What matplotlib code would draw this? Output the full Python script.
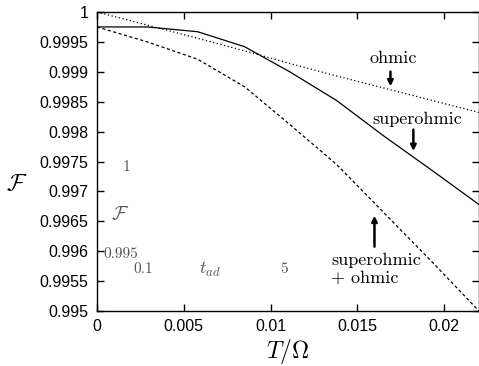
import numpy as np
import matplotlib
matplotlib.use("Agg")
import matplotlib.pyplot as plt
from matplotlib.ticker import FuncFormatter

plt.rcParams['mathtext.fontset'] = 'cm'
plt.rcParams['font.family'] = ['Liberation Sans', 'DejaVu Sans']

# T/Omega values and fidelities
T = [0, 0.0029, 0.0058, 0.0085, 0.0111, 0.0138, 0.0165, 0.0193, 0.022]
F_superohmic = [0.99975, 0.99975, 0.99967, 0.99942, 0.99900, 0.99852, 0.99793, 0.99735, 0.99678]
F_ohmic = [1.0, 0.99978, 0.99956, 0.99935, 0.99914, 0.99893, 0.99873, 0.99852, 0.99832]
F_both = [0.99975, 0.9995, 0.99921, 0.99875, 0.99812, 0.99745, 0.99665, 0.99582, 0.995]

xticks = [0, 0.005, 0.01, 0.015, 0.02]
yticks = [0.995, 0.9955, 0.996, 0.9965, 0.997, 0.9975, 0.998, 0.9985, 0.999, 0.9995, 1.0]

fig = plt.figure(figsize=(4.79, 3.66), dpi=100)
ax = fig.add_axes([97/479, 1-311/366, 382/479, 299/366])

ax.plot(T, F_superohmic, color='black', lw=0.9)
ax.plot(T, F_ohmic, color='black', lw=0.9, linestyle=(0, (1, 2)))
ax.plot(T, F_both, color='black', lw=0.9, linestyle=(0, (2.5, 2)))

ax.set_xlim(0, 0.022)
ax.set_ylim(0.995, 1.0)
ax.set_xticks(xticks)
ax.set_yticks(yticks)
fmt = FuncFormatter(lambda v, p: '%g' % round(v, 5))
ax.xaxis.set_major_formatter(fmt)
ax.yaxis.set_major_formatter(fmt)
ax.tick_params(direction='in', top=True, right=True, length=5, width=1,
               labelsize=11.5, pad=6)
for s in ax.spines.values():
    s.set_linewidth(1)

ax.set_xlabel(r'$T/\Omega$', fontsize=17, labelpad=2)
fig.text(17/479, 1-184/366, r'$\mathcal{F}$', fontsize=17, ha='center', va='center')

# annotations
serif = dict(family='cmr10', fontsize=13, color='black')
arrow = dict(arrowstyle='-|>', color='black', lw=1.8, mutation_scale=8)
ax.text(0.01707, 0.99922, 'ohmic', ha='center', va='center', **serif)
ax.annotate('', xy=(0.0169, 0.99871), xytext=(0.0169, 0.99905), arrowprops=arrow)
ax.text(0.01845, 0.9982, 'superohmic', ha='center', va='center', **serif)
ax.annotate('', xy=(0.01822, 0.99763), xytext=(0.01822, 0.99808), arrowprops=arrow)
ax.annotate('', xy=(0.01598, 0.99664), xytext=(0.01598, 0.99603), arrowprops=arrow)
ax.text(0.0135, 0.99585, 'superohmic', ha='left', va='center', **serif)
ax.text(0.0135, 0.99556, '+ ohmic', ha='left', va='center', **serif)

# leftover inset labels (gray)
gray = '#555555'
ax.text(0.00172, 0.9974, '1', ha='center', va='center', family='cmr10', fontsize=11, color=gray)
ax.text(0.00132, 0.9966, r'$\mathcal{F}$', ha='center', va='center', fontsize=14, color=gray)
ax.text(0.00135, 0.99595, '0.995', ha='center', va='center', family='cmr10', fontsize=11, color=gray)
ax.text(0.00264, 0.9957, '0.1', ha='center', va='center', family='cmr10', fontsize=11, color=gray)
ax.text(0.0065, 0.9957, r'$t_{ad}$', ha='center', va='center', fontsize=13, color=gray)
ax.text(0.01075, 0.9957, '5', ha='center', va='center', family='cmr10', fontsize=11, color=gray)

fig.savefig('out.png', dpi=100)
